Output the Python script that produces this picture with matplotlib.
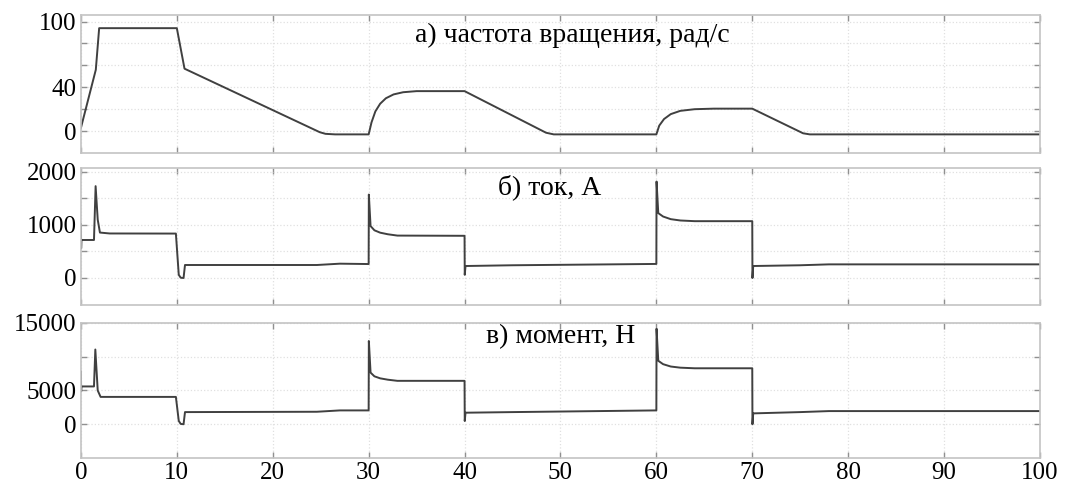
import matplotlib.pyplot as plt

# --- data ---
# a) speed, rad/s
t_speed = [0, 1.55, 1.9, 10.0, 10.8, 24.9, 25.5, 26.5, 30.0, 30.3, 30.7, 31.2, 31.8, 32.6,
           33.6, 35.0, 40.0, 48.5, 49.3, 60.0, 60.3, 60.8, 61.5, 62.5, 64.0, 66.0, 70.0,
           75.3, 76.0, 100]
speed = [3, 56, 94, 94, 57, -1, -2.5, -3, -3, 8, 18, 25, 30, 33.5,
         35.5, 36.5, 36.5, -1.5, -3, -3, 5, 11, 15.5, 18.5, 20, 20.5, 20.5,
         -2, -3, -3]

# b) current, A
t_cur = [0, 0.02, 0.05, 1.36, 1.53, 1.75, 1.98, 3.0, 9.9, 10.2, 10.4, 10.7, 10.85, 24.6,
         27.0, 30.0, 30.02, 30.2, 30.6, 31.2, 32.0, 33.0, 40.0, 40.02, 40.1, 45.0, 60.0,
         60.02, 60.2, 60.7, 61.5, 62.5, 64.0, 70.0, 70.02, 70.1, 75.0, 78.0, 100]
current = [1016, 560, 717, 717, 1733, 1100, 857, 840, 838, 60, 5, 0, 245, 245,
           270, 263, 1574, 980, 900, 855, 825, 800, 796, 60, 226, 240, 265,
           1820, 1224, 1160, 1110, 1085, 1072, 1072, 0, 226, 240, 257, 257]

# c) torque, N
t_torq = [0, 0.02, 0.05, 1.36, 1.5, 1.75, 2.05, 9.9, 10.2, 10.4, 10.7, 10.85, 24.6,
          27.0, 30.0, 30.02, 30.2, 30.6, 31.2, 32.0, 33.0, 40.0, 40.02, 40.1, 45.0, 60.0,
          60.02, 60.2, 60.7, 61.5, 62.5, 64.0, 70.0, 70.02, 70.1, 75.0, 78.0, 100]
torque = [7800, 4870, 5600, 5600, 11070, 5000, 4050, 4050, 500, 50, 0, 1800, 1850,
          2050, 2050, 12330, 7650, 7100, 6800, 6600, 6430, 6430, 480, 1710, 1800, 2050,
          14140, 9400, 8900, 8550, 8380, 8290, 8290, 0, 1610, 1800, 1950, 1950]

titles = ['а) частота вращения, рад/с', 'б) ток, А', 'в) момент, Н']
x_ticks = list(range(0, 101, 10))

plt.rcParams['font.family'] = ['Liberation Serif', 'DejaVu Serif']

fig = plt.figure(figsize=(10.65, 4.91), dpi=100)

left, width = 0.076, 0.9005
ax1 = fig.add_axes([left, 0.6884, width, 0.281])
ax2 = fig.add_axes([left, 0.3788, width, 0.279])
ax3 = fig.add_axes([left, 0.0672, width, 0.275])

panels = [
    (ax1, t_speed, speed, (-20, 106), [0, 20, 40, 60, 80, 100], ['0', '', '40', '', '', '100']),
    (ax2, t_cur, current, (-510, 2075), [0, 500, 1000, 1500, 2000], ['0', '', '1000', '', '2000']),
    (ax3, t_torq, torque, (-5000, 15000), [0, 5000, 10000, 15000], ['0', '5000', '', '15000']),
]
title_pos = [(0.512, 0.855), (0.489, 0.861), (0.50, 0.896)]

for i, (ax, t, v, ylim, yt, ylab) in enumerate(panels):
    ax.plot(t, v, color='#404040', linewidth=1.4)
    ax.set_xlim(0, 100)
    ax.set_ylim(*ylim)
    ax.set_xticks(x_ticks)
    ax.set_yticks(yt)
    ax.set_yticklabels(ylab)
    if i < 2:
        ax.set_xticklabels([])
    ax.grid(True, color='#e0e0e0', linestyle=':', linewidth=0.9)
    ax.tick_params(direction='in', length=4, color='#909090', width=1,
                   top=True, right=True, labelsize=18, pad=3)
    for sp in ax.spines.values():
        sp.set_color('#c4c4c4')
        sp.set_linewidth(1.2)
    tx, ty = title_pos[i]
    ax.text(tx, ty, titles[i], transform=ax.transAxes, ha='center', va='center',
            fontsize=20, color='black')

fig.savefig('out.png', dpi=100)
